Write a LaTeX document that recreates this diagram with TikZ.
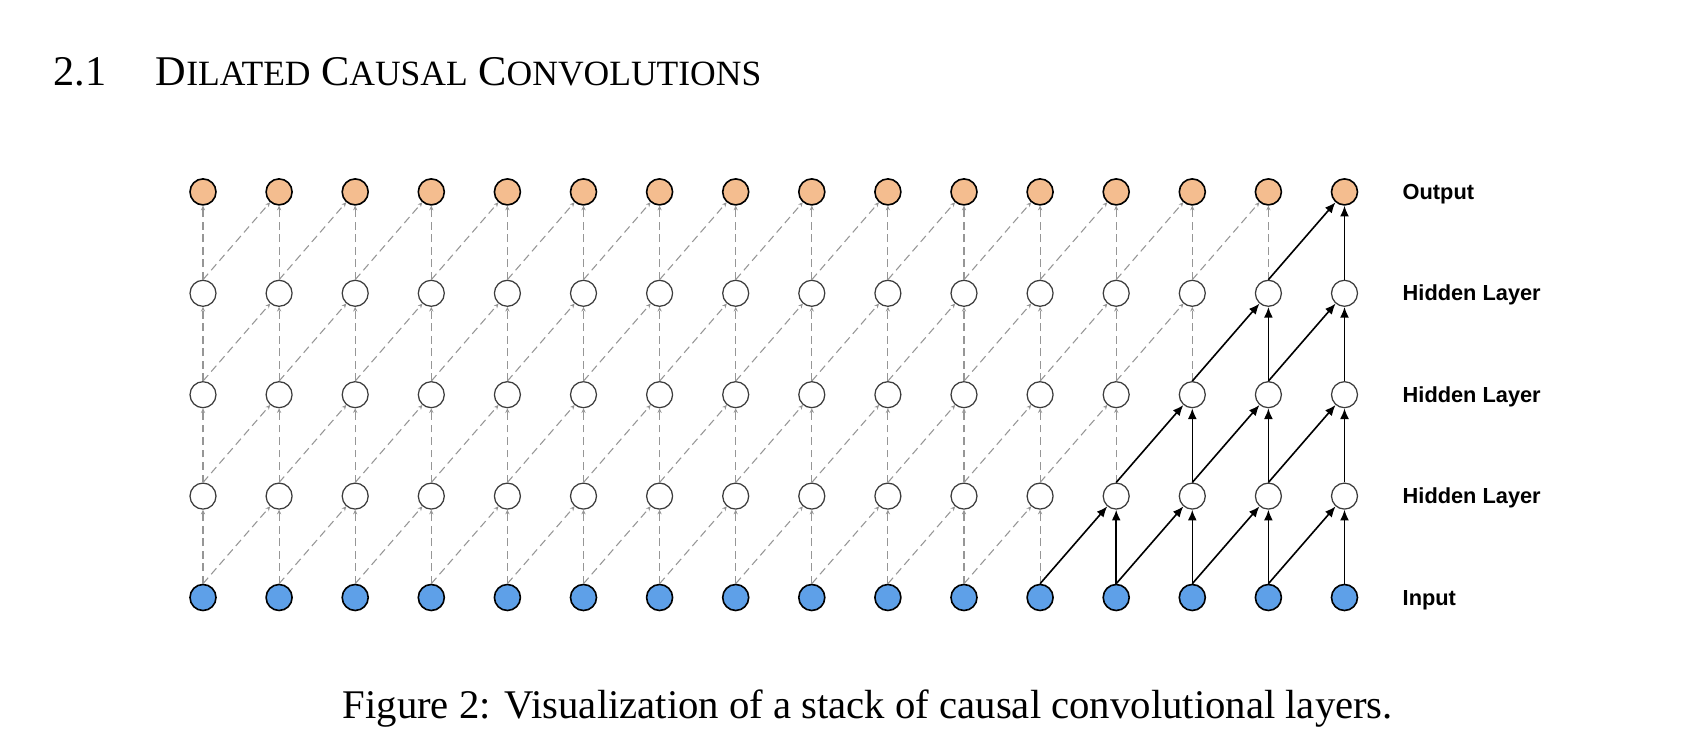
\documentclass[tikz,border=0pt]{standalone}
\usepackage{fontspec}
\setmainfont{Liberation Serif}
\setsansfont{Liberation Sans}
\usetikzlibrary{arrows.meta}
\definecolor{outc}{RGB}{244,189,143}
\definecolor{inc}{RGB}{94,160,232}
\definecolor{dashc}{RGB}{150,150,150}
\definecolor{hidc}{RGB}{60,60,60}
\newcommand{\scsz}{\fontsize{9.95}{12}\selectfont}
\begin{document}
\begin{tikzpicture}[x=0.28pt,y=-0.28pt,
  neuron/.style={circle,minimum size=7.28pt,inner sep=0pt},
  l0/.style={neuron,fill=inc,draw=black,line width=0.45pt},
  l1/.style={neuron,fill=white,draw=hidc,line width=0.35pt},
  l2/.style={l1},
  l3/.style={l1},
  l4/.style={neuron,fill=outc,draw=black,line width=0.45pt},
  dashedge/.style={draw=dashc,line width=0.3pt,dash pattern=on 2.2pt off 1.3pt,-{Stealth[length=1.3pt,width=1.2pt]}},
  solidedge/.style={draw=black,line width=0.45pt,-{Latex[length=3pt,width=2.5pt]}},
  lab/.style={anchor=base west,inner sep=0pt,font=\sffamily\bfseries\fontsize{6.1}{7}\selectfont},
  plain/.style={anchor=base west,inner sep=0pt}
]
\useasboundingbox (0,0) rectangle (1704,752);
\foreach \i in {0,...,15}{
  \foreach \r in {0,...,4}{
    \node[l\r] (n\r-\i) at ({203+76.1*\i},{597.5-101.4*\r}) {};
  }
}
\foreach \r [evaluate=\r as \rr using int(\r+1)] in {0,...,3}{
  \foreach \t in {0,...,15}{
    \pgfmathtruncatemacro\lim{12+\r}
    \pgfmathtruncatemacro\s{\t-1}
    \ifnum\t<\lim
      \draw[dashedge] (n\r-\t.north) -- (n\rr-\t.south);
      \ifnum\t>0 \draw[dashedge] (n\r-\s.north) -- (n\rr-\t); \fi
    \else
      \draw[solidedge] (n\r-\t.north) -- (n\rr-\t.south);
      \draw[solidedge] (n\r-\s.north) -- (n\rr-\t);
    \fi
  }
}
\node[lab] (lout) at (1402,200) {Output};
\node[lab] (lh3) at (1402,301) {Hidden Layer};
\node[lab] (lh2) at (1402,402.5) {Hidden Layer};
\node[lab] (lh1) at (1402,504) {Hidden Layer};
\node[lab] (lin) at (1402,605.5) {Input};
\node[plain] (secnum) at (53,86) {\fontsize{11.85}{14}\selectfont 2.1};
\node[plain] (sectitle) at (155,86) {\fontsize{11.85}{14}\selectfont D{\scsz ILATED} C{\scsz AUSAL} C{\scsz ONVOLUTIONS}};
\node[plain] (caption) at (342,719) {\fontsize{11.4}{13}\selectfont Figure 2: Visualization of a stack of causal convolutional layers.};
\end{tikzpicture}
\end{document}
